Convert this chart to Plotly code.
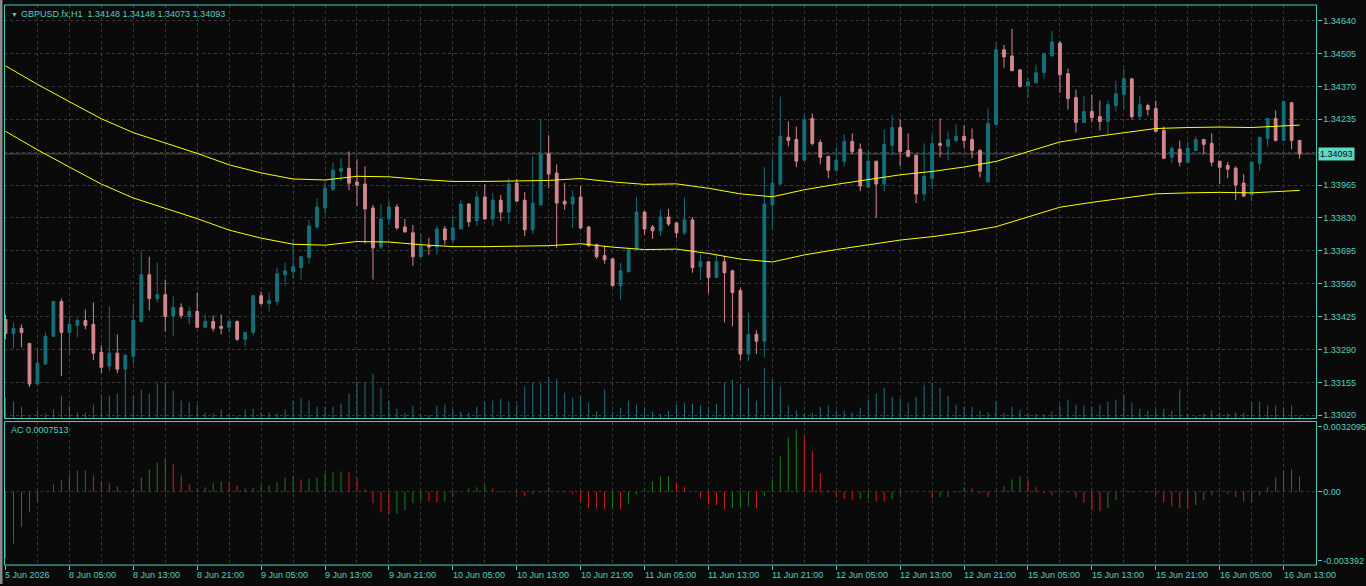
import plotly.graph_objects as go

# ---------------- data ----------------
bars = list(range(163))  # hourly bars, 5 Jun 21:00 ... 16 Jun 15:00

open_ = [1.33413,1.33356,1.33377,1.33315,1.33148,1.33230,1.33344,1.33487,1.33360,1.33389,
         1.33409,1.33393,1.33279,1.33222,1.33275,1.33209,1.33262,1.33405,1.33597,1.33499,
         1.33515,1.33426,1.33462,1.33426,1.33446,1.33381,1.33405,1.33385,1.33381,1.33405,
         1.33332,1.33360,1.33511,1.33479,1.33487,1.33597,1.33609,1.33626,1.33667,1.33793,
         1.33871,1.33948,1.34022,1.34034,1.33977,1.33969,1.33871,1.33711,1.33826,1.33875,
         1.33793,1.33769,1.33671,1.33716,1.33711,1.33785,1.33740,1.33785,1.33887,1.33818,
         1.33916,1.33826,1.33903,1.33854,1.33973,1.33903,1.33781,1.33883,1.34095,1.34014,
         1.33899,1.33887,1.33916,1.33793,1.33720,1.33675,1.33662,1.33552,1.33609,1.33703,
         1.33854,1.33793,1.33777,1.33834,1.33809,1.33769,1.33822,1.33630,1.33650,1.33585,
         1.33650,1.33613,1.33532,1.33271,1.33352,1.33324,1.33883,1.33969,1.34161,1.34152,
         1.34067,1.34238,1.34140,1.34083,1.34026,1.34063,1.34144,1.34112,1.33956,1.34063,
         1.33969,1.34128,1.34201,1.34107,1.34087,1.33928,1.33993,1.34136,1.34124,1.34148,
         1.34165,1.34152,1.34107,1.33977,1.34214,1.34520,1.34495,1.34438,1.34373,1.34385,
         1.34426,1.34495,1.34548,1.34422,1.34324,1.34222,1.34267,1.34246,1.34226,1.34291,
         1.34336,1.34401,1.34246,1.34291,1.34279,1.34189,1.34079,1.34112,1.34059,1.34107,
         1.34152,1.34136,1.34063,1.34046,1.34034,1.33973,1.33924,1.34054,1.34156,1.34238,
         1.34148,1.34303,1.34148]
high = [1.33434,1.33401,1.33393,1.33315,1.33299,1.33360,1.33487,1.33499,1.33426,1.33418,
        1.33454,1.33483,1.33307,1.33466,1.33352,1.33271,1.33479,1.33695,1.33671,1.33646,
        1.33577,1.33507,1.33479,1.33466,1.33524,1.33434,1.33430,1.33434,1.33413,1.33409,
        1.33364,1.33511,1.33528,1.33524,1.33626,1.33646,1.33744,1.33671,1.33822,1.33912,
        1.33977,1.34058,1.34075,1.34103,1.34071,1.34042,1.33883,1.33887,1.33903,1.33887,
        1.33826,1.33801,1.33765,1.33748,1.33797,1.33797,1.33838,1.33903,1.33891,1.33940,
        1.33969,1.33932,1.33924,1.33993,1.33989,1.33936,1.34083,1.34234,1.34169,1.34050,
        1.33973,1.33944,1.33961,1.33797,1.33724,1.33716,1.33662,1.33646,1.33707,1.33916,
        1.33858,1.33801,1.33863,1.33867,1.33814,1.33912,1.33834,1.33683,1.33650,1.33679,
        1.33675,1.33618,1.33544,1.33442,1.33369,1.34038,1.34075,1.34328,1.34226,1.34205,
        1.34254,1.34259,1.34152,1.34083,1.34120,1.34173,1.34177,1.34136,1.34107,1.34063,
        1.34193,1.34254,1.34234,1.34177,1.34091,1.34136,1.34173,1.34238,1.34185,1.34214,
        1.34210,1.34197,1.34112,1.34279,1.34548,1.34540,1.34606,1.34438,1.34406,1.34459,
        1.34508,1.34597,1.34557,1.34442,1.34357,1.34332,1.34336,1.34312,1.34312,1.34393,
        1.34442,1.34401,1.34332,1.34299,1.34312,1.34205,1.34124,1.34148,1.34144,1.34165,
        1.34152,1.34177,1.34063,1.34059,1.34042,1.34010,1.34063,1.34161,1.34238,1.34271,
        1.34312,1.34303,1.34148]
low = [1.33332,1.33295,1.33299,1.33136,1.33148,1.33230,1.33340,1.33181,1.33271,1.33340,
       1.33373,1.33246,1.33193,1.33201,1.33193,1.33173,1.33230,1.33401,1.33450,1.33483,
       1.33364,1.33344,1.33418,1.33393,1.33377,1.33377,1.33364,1.33352,1.33360,1.33324,
       1.33303,1.33348,1.33471,1.33446,1.33471,1.33552,1.33581,1.33577,1.33642,1.33785,
       1.33846,1.33940,1.33981,1.33944,1.33879,1.33724,1.33577,1.33703,1.33801,1.33781,
       1.33769,1.33634,1.33671,1.33679,1.33679,1.33720,1.33724,1.33785,1.33793,1.33797,
       1.33822,1.33797,1.33818,1.33805,1.33895,1.33756,1.33765,1.33883,1.33952,1.33707,
       1.33863,1.33789,1.33785,1.33711,1.33662,1.33642,1.33548,1.33495,1.33609,1.33695,
       1.33760,1.33744,1.33756,1.33797,1.33748,1.33760,1.33605,1.33577,1.33520,1.33585,
       1.33401,1.33385,1.33246,1.33242,1.33271,1.33258,1.33781,1.33969,1.34124,1.34038,
       1.34067,1.34128,1.34050,1.33993,1.34018,1.34042,1.34091,1.33940,1.33952,1.33830,
       1.33940,1.34087,1.34042,1.34079,1.33891,1.33899,1.33948,1.34079,1.34067,1.34140,
       1.34116,1.34075,1.33997,1.33977,1.34214,1.34446,1.34434,1.34365,1.34324,1.34381,
       1.34401,1.34495,1.34344,1.34275,1.34181,1.34222,1.34222,1.34189,1.34169,1.34267,
       1.34275,1.34234,1.34234,1.34250,1.34185,1.34071,1.34054,1.34042,1.34059,1.34107,
       1.34091,1.34042,1.33969,1.33993,1.33903,1.33916,1.33899,1.34022,1.34124,1.34144,
       1.34148,1.34112,1.34073]
close = [1.33356,1.33377,1.33360,1.33148,1.33234,1.33344,1.33487,1.33360,1.33393,1.33409,
         1.33389,1.33275,1.33217,1.33275,1.33209,1.33266,1.33409,1.33597,1.33499,1.33515,
         1.33426,1.33462,1.33430,1.33446,1.33381,1.33405,1.33377,1.33377,1.33405,1.33332,
         1.33360,1.33511,1.33479,1.33491,1.33601,1.33613,1.33630,1.33671,1.33797,1.33875,
         1.33952,1.34026,1.34034,1.33973,1.33965,1.33867,1.33707,1.33826,1.33875,1.33789,
         1.33773,1.33671,1.33716,1.33711,1.33785,1.33740,1.33789,1.33887,1.33814,1.33916,
         1.33826,1.33903,1.33854,1.33969,1.33899,1.33781,1.33891,1.34095,1.34010,1.33891,
         1.33887,1.33916,1.33789,1.33716,1.33671,1.33658,1.33552,1.33613,1.33699,1.33854,
         1.33785,1.33777,1.33834,1.33805,1.33769,1.33822,1.33626,1.33650,1.33585,1.33650,
         1.33605,1.33524,1.33271,1.33352,1.33324,1.33887,1.33973,1.34165,1.34148,1.34063,
         1.34234,1.34136,1.34079,1.34026,1.34067,1.34144,1.34103,1.33961,1.34063,1.33969,
         1.34132,1.34201,1.34103,1.34083,1.33928,1.34001,1.34136,1.34128,1.34152,1.34165,
         1.34148,1.34107,1.34022,1.34218,1.34520,1.34491,1.34434,1.34369,1.34389,1.34426,
         1.34504,1.34553,1.34418,1.34320,1.34222,1.34267,1.34242,1.34226,1.34295,1.34340,
         1.34401,1.34246,1.34295,1.34275,1.34185,1.34075,1.34116,1.34059,1.34116,1.34152,
         1.34132,1.34059,1.34038,1.34030,1.33965,1.33920,1.34059,1.34161,1.34238,1.34148,
         1.34308,1.34148,1.34093]

tick_volume = [21,17,12,2,8,5,9,23,13,6, 6,14,24,23,25,45,23,29,25,36,
               36,28,18,16,14,6,5,9,4,2, 9,10,6,6,5,9,18,21,18,12,
               12,12,15,25,37,36,45,31,18,10, 6,13,4,3,13,14,9,7,6,12,
               17,18,20,17,14,32,36,36,41,40, 26,21,23,16,7,29,7,11,18,14,
               11,7,5,8,14,16,15,13,12,15, 36,39,34,31,18,51,39,32,13,8,
               5,6,12,13,8,8,6,11,19,25, 31,22,20,16,22,34,36,31,23,14,
               12,12,8,6,17,6,12,9,5,5, 4,7,14,19,14,13,12,14,17,19,
               24,16,10,8,9,10,8,29,4,2, 5,8,6,5,6,6,16,17,13,13,
               11,13,2]

# envelope middle line (moving average), read every 4th bar
ma_bars = list(range(0, 164, 4)) + [162]
ma_vals = [1.34320,1.34244,1.34173,1.34103,1.34046,1.34005,1.33961,1.33914,1.33881,1.33856,
           1.33852,1.33867,1.33865,1.33854,1.33846,1.33846,1.33848,1.33850,1.33858,1.33844,
           1.33834,1.33836,1.33818,1.33795,1.33783,1.33812,1.33834,1.33852,1.33873,1.33887,
           1.33905,1.33928,1.33967,1.34008,1.34028,1.34046,1.34063,1.34067,1.34069,1.34067,
           1.34073,1.34077]
envelope_dev = 0.001  # 0.1 %

ac = [-0.003266,-0.002564,-0.001747,-0.001012,-0.000523,0.000016,0.000359,0.000555,0.000849,0.001045,
      0.001061,0.000800,0.000523,0.000408,0.000261,0.000016,0.000114,0.000702,0.001094,0.001437,
      0.001633,0.001339,0.000800,0.000359,0.000163,0.000212,0.000408,0.000506,0.000490,0.000310,
      0.000163,0.000180,0.000310,0.000327,0.000457,0.000702,0.000751,0.000604,0.000653,0.000702,
      0.000898,0.000947,0.000996,0.000947,0.000653,0.000114,-0.000572,-0.001012,-0.001110,-0.001094,
      -0.000914,-0.000572,-0.000425,-0.000474,-0.000523,-0.000474,-0.000278,-0.000016,0.000163,0.000212,
      0.000310,0.000163,0.000033,-0.000016,-0.000082,-0.000229,-0.000131,-0.000033,0.000212,0.000016,
      0.000033,-0.000131,-0.000474,-0.000817,-0.000833,-0.000849,-0.000833,-0.000866,-0.000621,-0.000131,
      0.000163,0.000506,0.000751,0.000768,0.000457,0.000212,0.000016,-0.000327,-0.000621,-0.000670,
      -0.000866,-0.000817,-0.000768,-0.000719,-0.000817,-0.000229,0.000604,0.001731,0.002662,0.003054,
      0.002711,0.001976,0.000898,0.000065,-0.000278,-0.000376,-0.000392,-0.000376,-0.000359,-0.000474,
      -0.000490,-0.000376,-0.000131,-0.000016,0.000033,0.000016,-0.000327,-0.000278,-0.000261,-0.000033,
      0.000212,0.000163,-0.000082,-0.000278,-0.000033,0.000261,0.000604,0.000751,0.000604,0.000212,
      -0.000082,-0.000180,-0.000049,-0.000033,-0.000294,-0.000539,-0.000931,-0.000963,-0.000817,-0.000425,
      -0.000016,-0.000033,-0.000016,-0.000049,-0.000180,-0.000523,-0.000719,-0.000817,-0.000833,-0.000670,
      -0.000425,-0.000180,-0.000033,-0.000131,-0.000278,-0.000474,-0.000490,-0.000180,0.000212,0.000702,
      0.001045,0.001094,0.0007513]

price_ticks = [1.34640,1.34505,1.34370,1.34235,1.34100,1.33965,1.33830,1.33695,1.33560,
               1.33425,1.33290,1.33155,1.33020]
price_tick_text = ["1.34640","1.34505","1.34370","1.34235","","1.33965","1.33830","1.33695",
                   "1.33560","1.33425","1.33290","1.33155","1.33020"]
ac_ticks = [0.0032095, 0.0, -0.003392]
ac_tick_text = ["0.0032095", "0.00", "-0.003392"]

time_label_bars = list(range(0, 161, 8))
time_labels = ["5 Jun 2026","8 Jun 05:00","8 Jun 13:00","8 Jun 21:00","9 Jun 05:00","9 Jun 13:00",
               "9 Jun 21:00","10 Jun 05:00","10 Jun 13:00","10 Jun 21:00","11 Jun 05:00",
               "11 Jun 13:00","11 Jun 21:00","12 Jun 05:00","12 Jun 13:00","12 Jun 21:00",
               "15 Jun 05:00","15 Jun 13:00","15 Jun 21:00","16 Jun 05:00","16 Jun 13:00"]

symbol_title = "GBPUSD.fx,H1  1.34148 1.34148 1.34073 1.34093"
last_price = 1.34093
ac_title = "AC 0.0007513"

# ---------------- styling ----------------
W, H = 1366, 586
def fx(p): return p / W
def fy(p): return 1 - p / H

BG = "#0a0a0a"
FG = "#4fd1c0"
GRID = "#3a3a3a"
BULL = "#13707a"
BEAR = "#d4878d"
VOLC = "#1d6f80"
ACG = "#1a7d1a"
ACR = "#d81c1c"
MAC = "#ffff00"
FONT = "Liberation Sans"
FS = 9

X0, X1 = 4.5, 1318.5
xr = [(X0 - 5.5) / 8, (X1 - 5.5) / 8]   # bar centres land on pixel centres

fig = go.Figure()

# volume (base axis, under candles)
vx, vy = [], []
for b, v in zip(bars, tick_volume):
    vx += [b, b, None]; vy += [0, v, None]
fig.add_trace(go.Scatter(x=vx, y=vy, mode="lines", line=dict(color=VOLC, width=1),
                         xaxis="x", yaxis="y", hoverinfo="skip", showlegend=False))

fig.add_trace(go.Candlestick(x=bars, open=open_, high=high, low=low, close=close,
                             xaxis="x", yaxis="y3",
                             increasing=dict(line=dict(color=BULL, width=1), fillcolor=BULL),
                             decreasing=dict(line=dict(color=BEAR, width=1), fillcolor=BEAR),
                             whiskerwidth=0, showlegend=False))

fig.add_trace(go.Scatter(x=ma_bars, y=[m * (1 + envelope_dev) for m in ma_vals], mode="lines",
                         line=dict(color=MAC, width=1), xaxis="x", yaxis="y3", showlegend=False))
fig.add_trace(go.Scatter(x=ma_bars, y=[m * (1 - envelope_dev) for m in ma_vals], mode="lines",
                         line=dict(color=MAC, width=1), xaxis="x", yaxis="y3", showlegend=False))

# AC histogram
gx, gy, rx, ry = [], [], [], []
for i, v in enumerate(ac):
    up = True if i == 0 else v > ac[i - 1]
    if up:
        gx += [i, i, None]; gy += [0, v, None]
    else:
        rx += [i, i, None]; ry += [0, v, None]
fig.add_trace(go.Scatter(x=gx, y=gy, mode="lines", line=dict(color=ACG, width=1),
                         xaxis="x2", yaxis="y2", showlegend=False))
fig.add_trace(go.Scatter(x=rx, y=ry, mode="lines", line=dict(color=ACR, width=1),
                         xaxis="x2", yaxis="y2", showlegend=False))

main_dom = [fy(420), fy(5)]
ac_dom = [fy(567), fy(423)]
tickfont = dict(family=FONT, size=FS, color=FG)

fig.update_layout(
    width=W, height=H, margin=dict(l=0, r=0, t=0, b=0),
    paper_bgcolor=BG, plot_bgcolor=BG, showlegend=False,
    boxgap=0.5,
    xaxis=dict(domain=[fx(X0), fx(X1)], range=xr, anchor="y", showticklabels=False,
               tickmode="linear", tick0=0, dtick=4, showgrid=True, gridcolor=GRID,
               griddash="3px,3px", gridwidth=1, zeroline=False, ticks="",
               rangeslider=dict(visible=False), showline=False),
    yaxis=dict(domain=main_dom, range=[0, 415], showticklabels=False, showgrid=False,
               zeroline=False, ticks="", fixedrange=True),
    yaxis3=dict(domain=main_dom, range=[1.330065, 1.347041], overlaying="y", anchor="x",
                side="right", tickmode="array", tickvals=price_ticks, ticktext=price_tick_text,
                ticks="outside", ticklen=4, tickcolor=FG, tickfont=tickfont,
                showgrid=True, gridcolor=GRID, griddash="3px,3px", zeroline=False),
    xaxis2=dict(domain=[fx(X0), fx(X1)], range=xr, anchor="y2", matches="x",
                showticklabels=False, tickmode="linear", tick0=0, dtick=8,
                ticks="outside", ticklen=4, tickcolor=FG, showgrid=True, gridcolor=GRID,
                griddash="3px,3px", zeroline=False,
                minor=dict(tick0=0, dtick=4, showgrid=True, gridcolor=GRID,
                           griddash="3px,3px", ticks="")),
    yaxis2=dict(domain=ac_dom, range=[-0.003611, 0.003445], anchor="x2", side="right",
                tickmode="array", tickvals=ac_ticks, ticktext=ac_tick_text,
                ticks="outside", ticklen=4, tickcolor=FG, tickfont=tickfont,
                showgrid=False, zeroline=False),
)

shapes = [
    dict(type="line", xref="paper", yref="y3", x0=fx(X0), x1=fx(X1), y0=last_price, y1=last_price,
         line=dict(color="#555555", width=1), layer="between"),
    dict(type="line", xref="paper", yref="y2", x0=fx(X0), x1=fx(X1), y0=0, y1=0,
         line=dict(color=GRID, width=1, dash="3px,3px"), layer="between"),
    dict(type="rect", xref="paper", yref="paper", x0=fx(X0), x1=fx(X1), y0=fy(420), y1=fy(5),
         line=dict(color=FG, width=1), layer="above"),
    dict(type="rect", xref="paper", yref="paper", x0=fx(X0), x1=fx(X1), y0=fy(567), y1=fy(423),
         line=dict(color=FG, width=1), layer="above"),
    dict(type="rect", xref="paper", yref="paper", x0=0, x1=fx(2.5), y0=fy(586), y1=fy(0),
         line=dict(width=0), fillcolor="#8a8a8a", layer="above"),
]
fig.update_layout(shapes=shapes)

ann = [
    dict(text="▼", xref="paper", yref="paper", x=fx(9), y=fy(14.5), xanchor="left",
         yanchor="middle", showarrow=False, font=dict(family=FONT, size=7, color=FG)),
    dict(text=symbol_title, xref="paper", yref="paper", x=fx(19), y=fy(14.5), xanchor="left",
         yanchor="middle", showarrow=False, font=dict(family=FONT, size=FS, color=FG)),
    dict(text=ac_title, xref="paper", yref="paper", x=fx(9), y=fy(431.5), xanchor="left",
         yanchor="middle", showarrow=False, font=dict(family=FONT, size=FS, color=FG)),
    dict(text=f"{last_price:.5f}", xref="paper", yref="y3", x=fx(1320), y=last_price,
         xanchor="left", yanchor="middle", showarrow=False, bgcolor="#5fd8c6",
         borderpad=1, font=dict(family=FONT, size=FS, color="#0a0a0a")),
]
for b, t in zip(time_label_bars, time_labels):
    ann.append(dict(text=t, xref="x2", yref="paper", x=b, y=fy(577), xanchor="left",
                    yanchor="middle", xshift=-2, showarrow=False,
                    font=dict(family=FONT, size=FS, color=FG)))
fig.update_layout(annotations=ann)

fig.write_html("out.html")
